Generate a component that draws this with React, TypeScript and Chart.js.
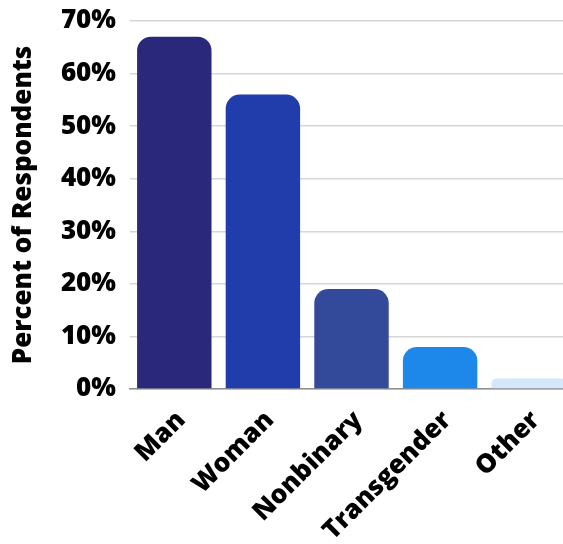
import { useEffect, useRef } from "react";
import { Chart, registerables } from "chart.js";

Chart.register(...registerables);

// Survey: gender identity of respondents (share, %)
const categories = ["Man", "Woman", "Nonbinary", "Transgender", "Other"];
const percentRespondents = [67, 56, 19, 8, 2];
const barColors = ["#29287a", "#213dab", "#334a9b", "#1e88ea", "#d4e7fb"];
const yAxisMax = 70;
const yAxisStep = 10;
const yAxisTitle = "Percent of Respondents";

const FONT = "'Open Sans', 'Noto Sans', sans-serif";

export default function App() {
  const canvasRef = useRef<HTMLCanvasElement | null>(null);

  useEffect(() => {
    if (!canvasRef.current) return;
    const chart = new Chart(canvasRef.current, {
      type: "bar",
      data: {
        labels: categories,
        datasets: [
          {
            data: percentRespondents,
            backgroundColor: barColors,
            borderWidth: 0,
            borderRadius: { topLeft: 14, topRight: 14, bottomLeft: 0, bottomRight: 0 },
            borderSkipped: false,
            barPercentage: 0.84,
            categoryPercentage: 1,
          },
        ],
      },
      options: {
        responsive: false,
        animation: false,
        layout: { padding: 0 },
        plugins: {
          legend: { display: false },
          tooltip: { enabled: false },
        },
        scales: {
          x: {
            afterFit: (scale: any) => {
              scale.height = 155;
            },
            grid: { display: false },
            border: { display: true, color: "#8f8f8f", width: 1.5 },
            ticks: {
              color: "#000",
              maxRotation: 45,
              minRotation: 45,
              padding: 8,
              labelOffset: 7,
              font: { family: FONT, size: 26, weight: 800 },
            },
          },
          y: {
            min: 0,
            max: yAxisMax,
            afterFit: (scale: any) => {
              scale.width = 122;
              scale.paddingTop = 13;
            },
            grid: { color: "#d6d6d6", lineWidth: 1.5, drawTicks: false },
            border: { display: false },
            ticks: {
              stepSize: yAxisStep,
              color: "#000",
              padding: 14,
              callback: (v: any) => `${v}%`,
              font: { family: FONT, size: 26, weight: 800 },
            },
            title: {
              display: true,
              text: yAxisTitle,
              color: "#000",
              padding: { top: 0, bottom: 6 },
              font: { family: FONT, size: 26, weight: 800 },
            },
          },
        },
      },
    });
    return () => chart.destroy();
  }, []);

  return (
    <div
      style={{
        position: "fixed",
        left: 8,
        top: 8,
        width: 555,
        height: 536,
        overflow: "hidden",
        background: "#fff",
      }}
    >
      <canvas ref={canvasRef} width={565} height={536} style={{ width: 565, height: 536, display: "block" }} />
    </div>
  );
}
